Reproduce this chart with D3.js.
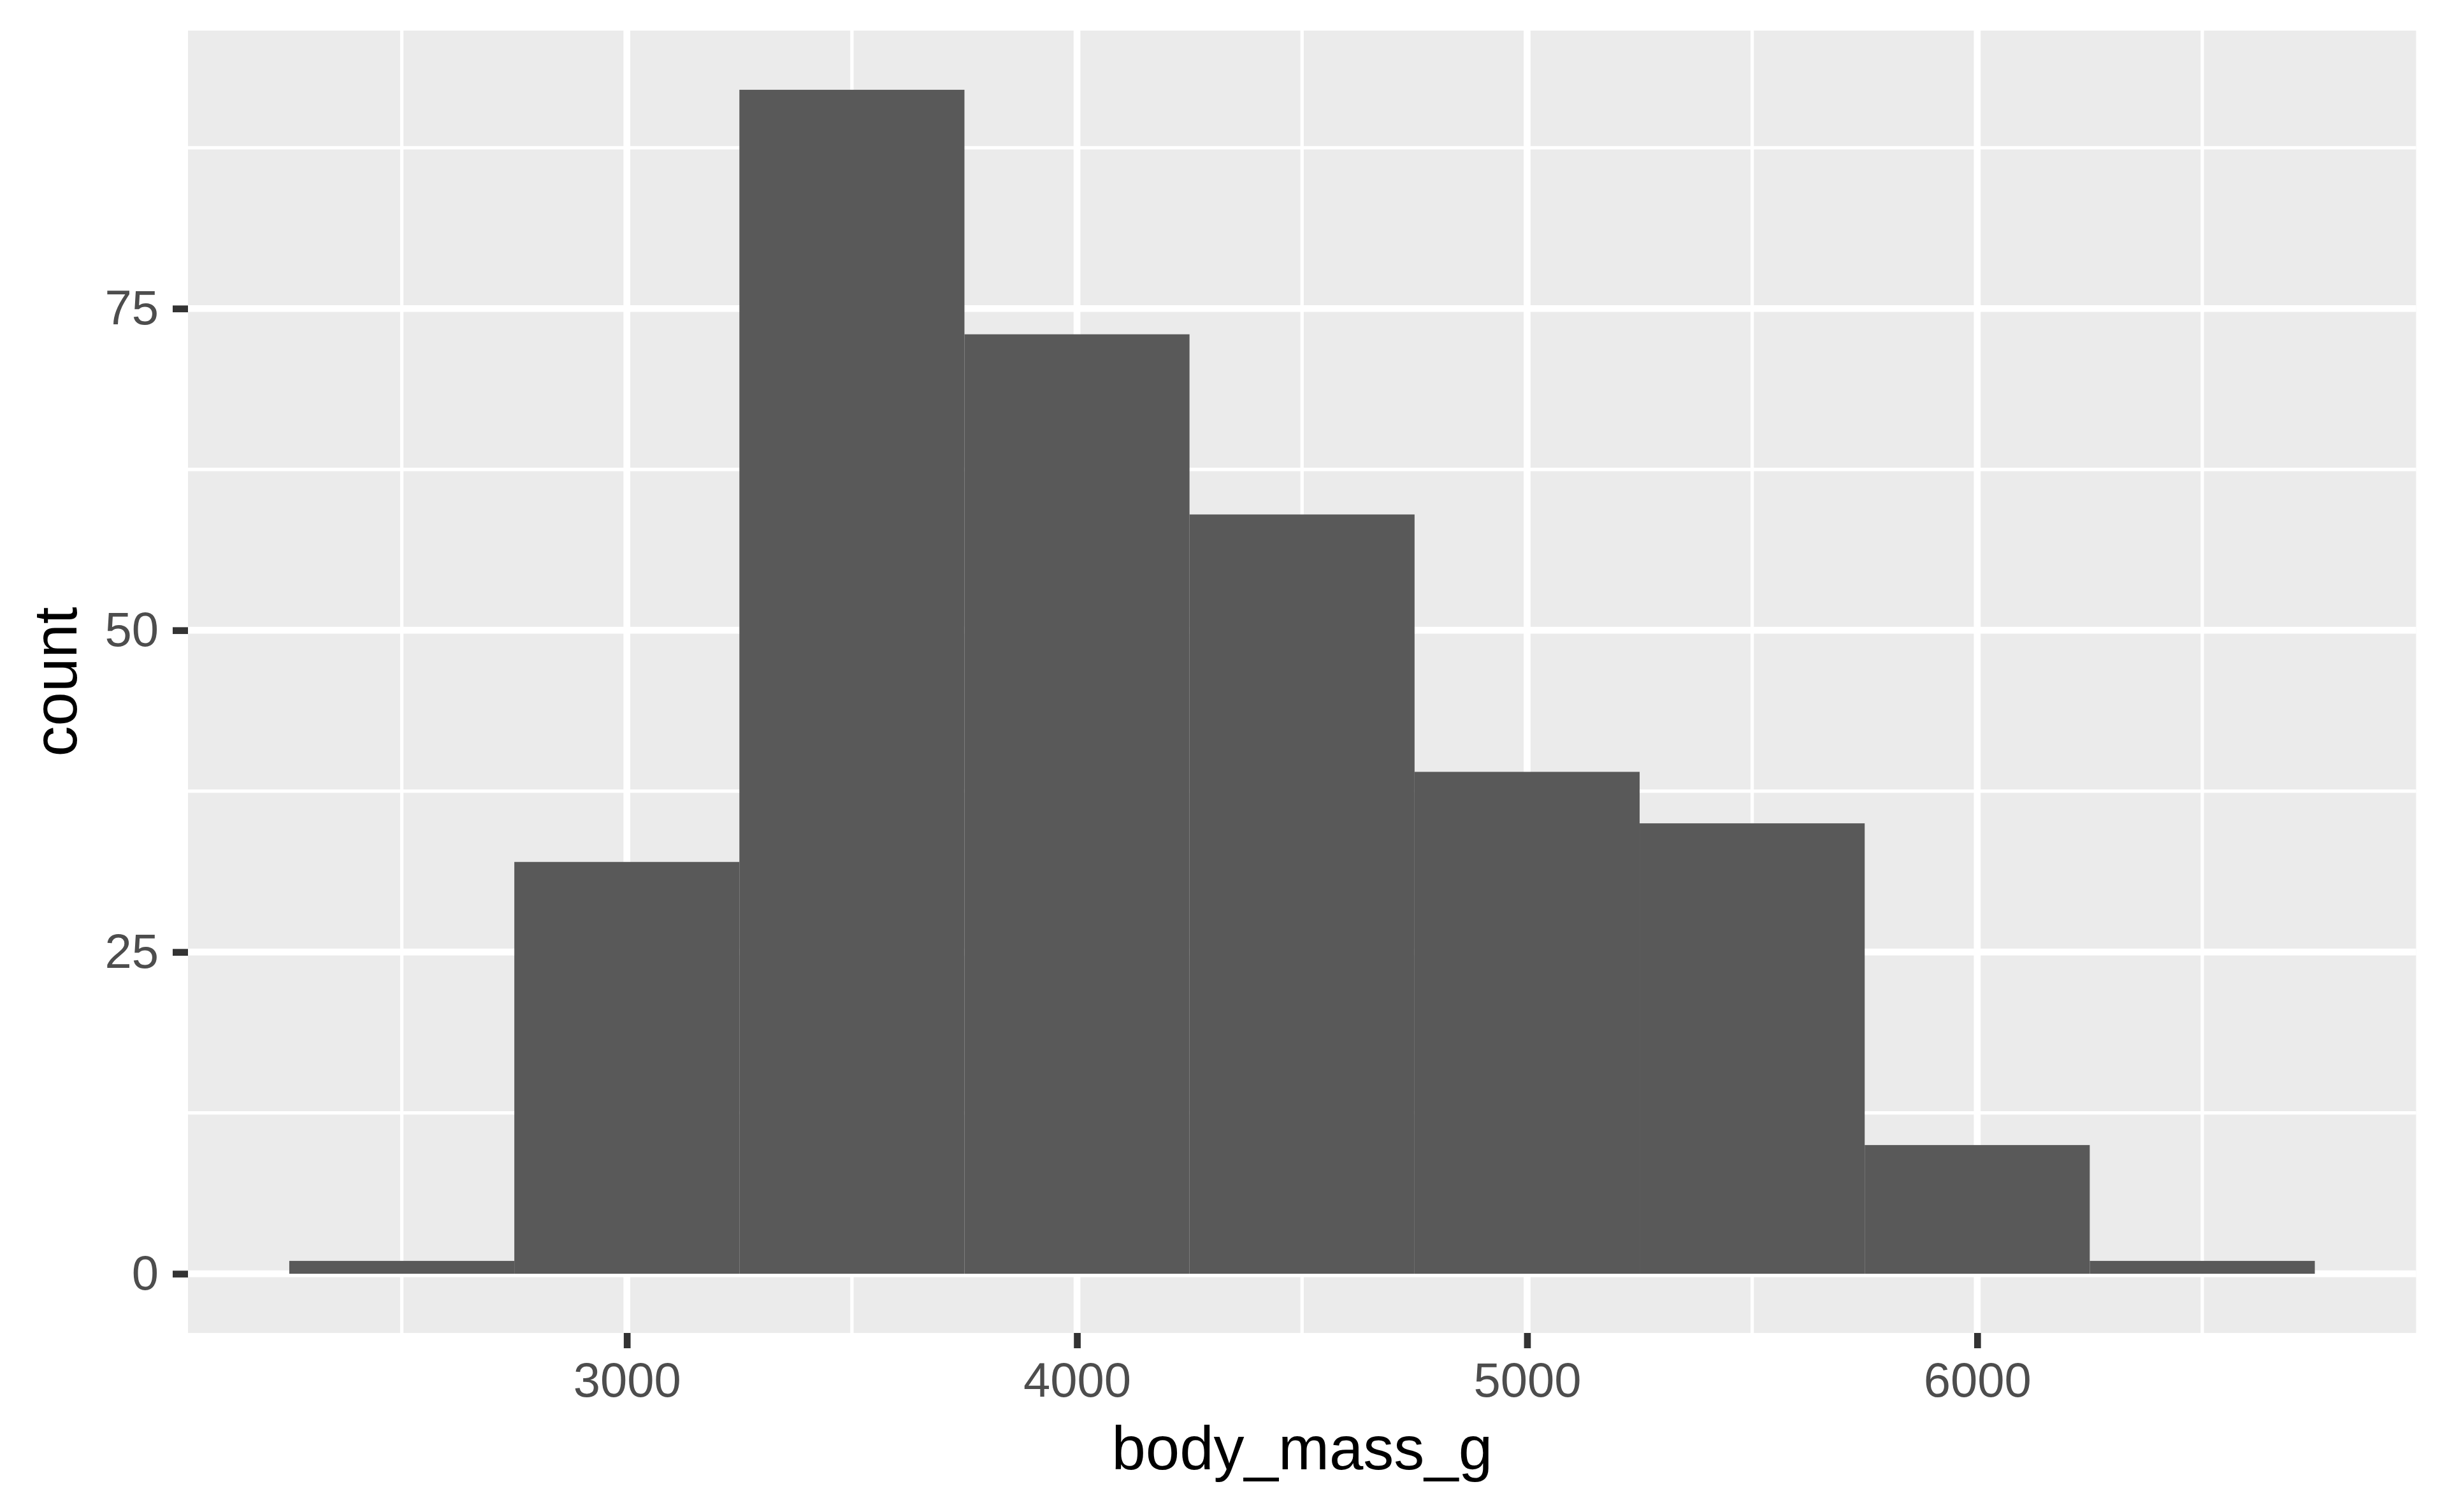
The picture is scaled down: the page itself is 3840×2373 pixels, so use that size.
<!DOCTYPE html>
<html>
<head>
<meta charset="utf-8">
<script src="https://cdn.jsdelivr.net/npm/d3@7"></script>
<style>
  html, body { margin: 0; padding: 0; background: #ffffff; }
  svg { display: block; }
</style>
</head>
<body>
<script>
// ---- data ----
const binLo = [2250, 2750, 3250, 3750, 4250, 4750, 5250, 5750, 6250];
const binHi = [2750, 3250, 3750, 4250, 4750, 5250, 5750, 6250, 6750];
const counts = [1, 32, 92, 73, 59, 39, 35, 10, 1];
const xMajor = [3000, 4000, 5000, 6000];
const xMinor = [2500, 3500, 4500, 5500, 6500];
const yMajor = [0, 25, 50, 75];
const yMinor = [12.5, 37.5, 62.5, 87.5];
const xTitle = "body_mass_g";
const yTitle = "count";

// ---- layout ----
const W = 3840, H = 2373;
const panel = { left: 295, right: 3791.5, top: 48, bottom: 2092 };
const font = "'Liberation Sans', Arial, Helvetica, sans-serif";

const xMin = d3.min(binLo), xMax = d3.max(binHi);
const xPad = (xMax - xMin) * 0.05;
const yMaxData = d3.max(counts);
const yPad = yMaxData * 0.05;

const x = d3.scaleLinear().domain([xMin - xPad, xMax + xPad]).range([panel.left, panel.right]);
const y = d3.scaleLinear().domain([0 - yPad, yMaxData + yPad]).range([panel.bottom, panel.top]);

const svg = d3.select("body").append("svg").attr("width", W).attr("height", H);
svg.append("rect").attr("width", W).attr("height", H).attr("fill", "#ffffff");

// panel background
svg.append("rect")
  .attr("x", panel.left).attr("y", panel.top)
  .attr("width", panel.right - panel.left).attr("height", panel.bottom - panel.top)
  .attr("fill", "#EBEBEB");

const grid = svg.append("g");
// minor grid
grid.selectAll("line.xmin").data(xMinor).enter().append("line")
  .attr("x1", d => x(d)).attr("x2", d => x(d))
  .attr("y1", panel.top).attr("y2", panel.bottom)
  .attr("stroke", "#ffffff").attr("stroke-width", 5.3);
grid.selectAll("line.ymin").data(yMinor).enter().append("line")
  .attr("y1", d => y(d)).attr("y2", d => y(d))
  .attr("x1", panel.left).attr("x2", panel.right)
  .attr("stroke", "#ffffff").attr("stroke-width", 5.3);
// major grid
grid.selectAll("line.xmaj").data(xMajor).enter().append("line")
  .attr("x1", d => x(d)).attr("x2", d => x(d))
  .attr("y1", panel.top).attr("y2", panel.bottom)
  .attr("stroke", "#ffffff").attr("stroke-width", 10.7);
grid.selectAll("line.ymaj").data(yMajor).enter().append("line")
  .attr("y1", d => y(d)).attr("y2", d => y(d))
  .attr("x1", panel.left).attr("x2", panel.right)
  .attr("stroke", "#ffffff").attr("stroke-width", 10.7);

// bars
const bins = counts.map((c, i) => ({ lo: binLo[i], hi: binHi[i], c }));
svg.append("g").selectAll("rect").data(bins).enter().append("rect")
  .attr("x", d => x(d.lo))
  .attr("width", d => x(d.hi) - x(d.lo))
  .attr("y", d => y(d.c))
  .attr("height", d => y(0) - y(d.c))
  .attr("fill", "#595959");

// axes
const tickLen = 24, tickPad = 22;
const xAxis = d3.axisBottom(x).tickValues(xMajor).tickFormat(d3.format("d"))
  .tickSizeInner(tickLen).tickSizeOuter(0).tickPadding(tickPad);
const yAxis = d3.axisLeft(y).tickValues(yMajor).tickFormat(d3.format("d"))
  .tickSizeInner(tickLen).tickSizeOuter(0).tickPadding(tickPad);

const gx = svg.append("g").attr("transform", `translate(0,${panel.bottom})`).call(xAxis);
const gy = svg.append("g").attr("transform", `translate(${panel.left},0)`).call(yAxis);
[gx, gy].forEach(g => {
  g.select(".domain").remove();
  g.selectAll(".tick line").attr("stroke", "#333333").attr("stroke-width", 10.7);
  g.selectAll(".tick text")
    .attr("fill", "#4D4D4D")
    .style("font-family", font)
    .style("font-size", "76px");
});

// axis titles
svg.append("text")
  .attr("x", (panel.left + panel.right) / 2)
  .attr("y", 2306)
  .attr("text-anchor", "middle")
  .style("font-family", font)
  .style("font-size", "96px")
  .attr("fill", "#000000")
  .text(xTitle);

svg.append("text")
  .attr("transform", `translate(120,${(panel.top + panel.bottom) / 2}) rotate(-90)`)
  .attr("text-anchor", "middle")
  .style("font-family", font)
  .style("font-size", "96px")
  .attr("fill", "#000000")
  .text(yTitle);
</script>
</body>
</html>
